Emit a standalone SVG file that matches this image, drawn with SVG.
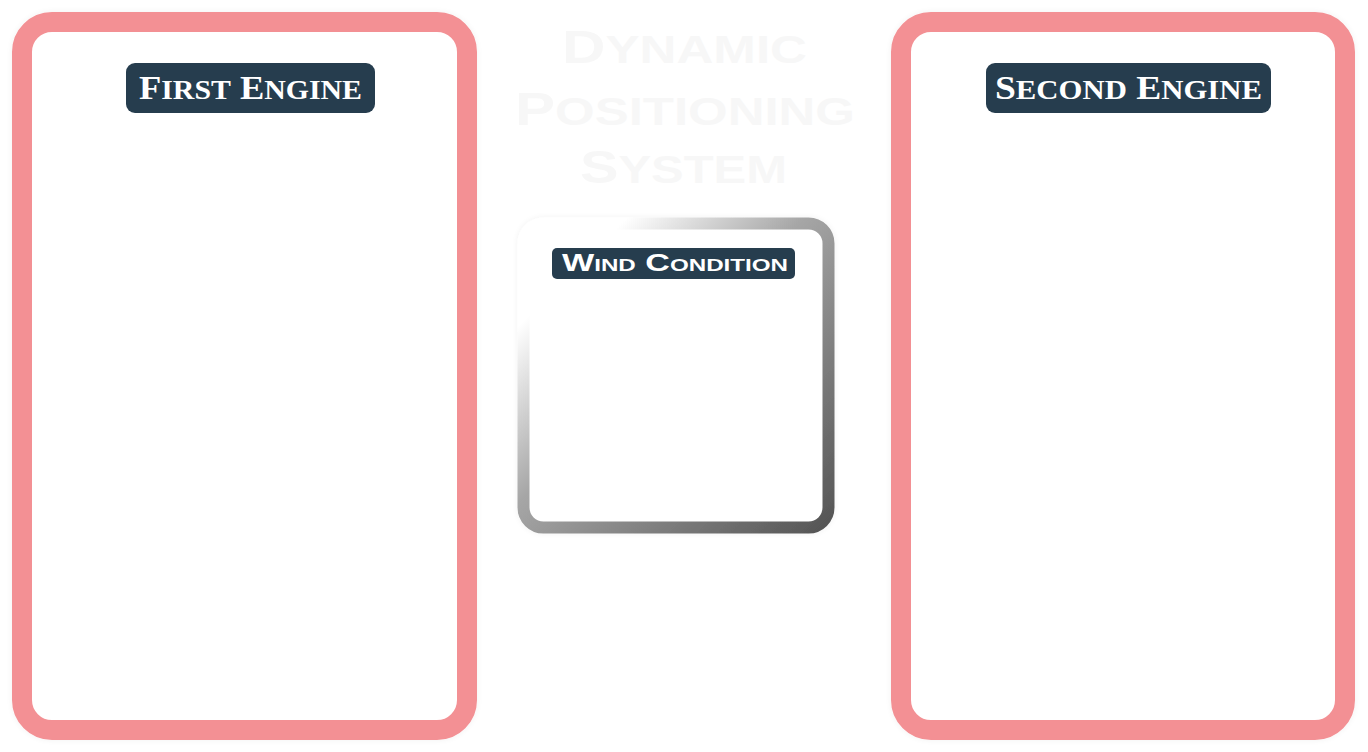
<svg xmlns="http://www.w3.org/2000/svg" width="1368" height="752" viewBox="0 0 1368 752">
  <defs>
    <linearGradient id="grayStroke" x1="0" y1="0" x2="1" y2="1">
      <stop offset="0.16" stop-color="#ffffff"/>
      <stop offset="0.45" stop-color="#a6a6a6"/>
      <stop offset="1" stop-color="#555555"/>
    </linearGradient>
    <filter id="halo" x="-5%" y="-5%" width="110%" height="110%">
      <feGaussianBlur in="SourceAlpha" stdDeviation="3"/>
      <feComponentTransfer><feFuncA type="linear" slope="0.06"/></feComponentTransfer>
      <feMerge><feMergeNode/><feMergeNode in="SourceGraphic"/></feMerge>
    </filter>
  </defs>
  <style>
    .engine { fill: #ffffff; stroke: #f39094; stroke-width: 20; }
    .tag { fill: #263d4e; }
    .engineText { font-family: "Liberation Serif", serif; font-weight: bold; font-variant: small-caps; font-size: 33px; fill: #ffffff; text-anchor: middle; }
    .engineText .lc { font-size: 38px; }
    .windText { font-family: "Liberation Sans", sans-serif; font-weight: bold; font-variant: small-caps; font-size: 24px; fill: #ffffff; text-anchor: middle; }
    .title { font-family: "Liberation Sans", sans-serif; font-weight: bold; font-variant: small-caps; font-size: 46px; fill: #f7f7f7; text-anchor: middle; }
    .title .lc { font-size: 56px; }
  </style>
  <rect width="1368" height="752" fill="#ffffff"/>

  <g id="title">
    <text class="title" x="684.5" y="63" textLength="245" lengthAdjust="spacingAndGlyphs">D<tspan class="lc">ynamic</tspan></text>
    <text class="title" x="685" y="125" textLength="340" lengthAdjust="spacingAndGlyphs">P<tspan class="lc">ositioning</tspan></text>
    <text class="title" x="683.5" y="183" textLength="207" lengthAdjust="spacingAndGlyphs">S<tspan class="lc">ystem</tspan></text>
  </g>

  <g id="first-engine">
    <rect class="engine" x="22" y="22" width="445" height="708" rx="30" filter="url(#halo)"/>
    <rect class="tag" x="126" y="63" width="249" height="50" rx="9"/>
    <text class="engineText" x="250.5" y="99" textLength="223" lengthAdjust="spacingAndGlyphs">F<tspan class="lc">irst</tspan> E<tspan class="lc">ngine</tspan></text>
  </g>

  <g id="second-engine">
    <rect class="engine" x="901" y="22" width="444" height="708" rx="30" filter="url(#halo)"/>
    <rect class="tag" x="986" y="63" width="285" height="50" rx="9"/>
    <text class="engineText" x="1128.5" y="99" textLength="267" lengthAdjust="spacingAndGlyphs">S<tspan class="lc">econd</tspan> E<tspan class="lc">ngine</tspan></text>
  </g>

  <g id="wind-condition">
    <rect x="523.5" y="223.5" width="305" height="304" rx="20" fill="#ffffff" stroke="url(#grayStroke)" stroke-width="12" filter="url(#halo)"/>
    <rect class="tag" x="552" y="248" width="243" height="31" rx="5"/>
    <text class="windText" x="675" y="271" textLength="226" lengthAdjust="spacingAndGlyphs">Wind Condition</text>
  </g>

  <g id="connectors"></g>
</svg>
